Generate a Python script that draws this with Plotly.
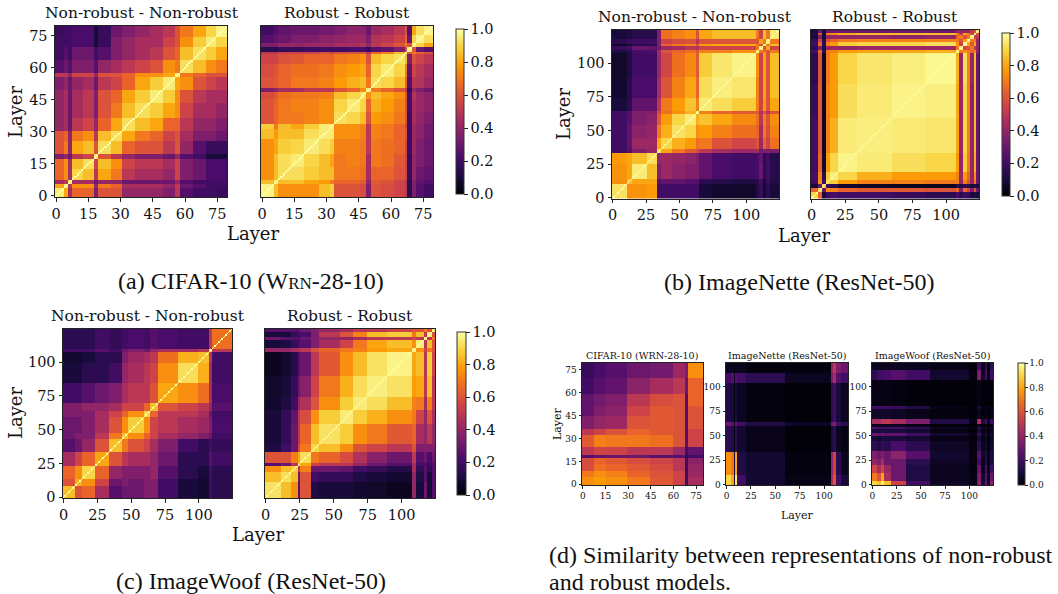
import plotly.graph_objects as go

W, H = 1058, 594
ML, MR, MT, MB = 5, 5, 5, 5

# ---------- data: bin edges (layer index) and similarity values ----------
a1_edges = [0,4,6,8,13,18,20,26,31,37,44,50,56,58,64,70,75,80]
a1_lower = [
 [.95],
 [.8,.95],
 [.45,.5,.95],
 [.65,.75,.45,.9],
 [.65,.75,.45,.85,.92],
 [.35,.4,.3,.5,.55,.95],
 [.6,.7,.4,.8,.85,.6,.92],
 [.6,.65,.4,.7,.75,.5,.85,.92],
 [.4,.45,.3,.5,.55,.4,.65,.8,.92],
 [.4,.45,.3,.45,.5,.35,.6,.7,.85,.92],
 [.4,.45,.3,.45,.5,.35,.6,.65,.8,.88,.95],
 [.35,.4,.3,.4,.45,.3,.5,.55,.65,.8,.88,.95],
 [.5,.5,.4,.55,.55,.4,.6,.6,.65,.75,.75,.8,.95],
 [.25,.3,.25,.35,.35,.25,.4,.45,.5,.55,.6,.75,.7,.92],
 [.2,.25,.2,.3,.3,.2,.25,.35,.4,.45,.5,.6,.65,.85,.93],
 [.2,.2,.2,.22,.22,.1,.18,.35,.4,.45,.45,.55,.6,.75,.88,.95],
 [.18,.2,.2,.22,.22,.1,.18,.3,.35,.4,.45,.5,.6,.7,.8,.9,.97],
]

a2_edges = [0,6,8,14,20,27,32,34,40,46,49,51,56,62,67,68,70,72,76,80]
a2_lower = [
 [.97],
 [.85,.95],
 [.75,.85,.92],
 [.75,.85,.92,.95],
 [.75,.8,.88,.9,.95],
 [.85,.78,.85,.85,.92,.95],
 [.88,.7,.85,.8,.88,.95,.95],
 [.6,.65,.7,.7,.72,.75,.75,.92],
 [.6,.65,.7,.72,.72,.75,.75,.9,.95],
 [.58,.62,.68,.7,.7,.72,.72,.85,.9,.93],
 [.35,.4,.45,.45,.5,.5,.5,.6,.65,.75,.95],
 [.6,.62,.65,.7,.7,.72,.72,.78,.82,.85,.7,.92],
 [.58,.6,.65,.68,.68,.7,.7,.75,.78,.8,.65,.9,.95],
 [.55,.55,.6,.62,.65,.65,.65,.7,.72,.75,.6,.85,.9,.93],
 [.5,.5,.55,.55,.55,.6,.55,.6,.6,.6,.5,.65,.72,.85,.95],
 [.15,.15,.18,.18,.2,.2,.2,.2,.22,.22,.18,.25,.28,.35,.6,.95],
 [.35,.35,.4,.4,.42,.42,.42,.45,.45,.48,.4,.5,.55,.6,.7,.6,.95],
 [.25,.28,.3,.35,.35,.38,.38,.4,.42,.42,.35,.48,.5,.55,.65,.3,.9,.97],
 [.2,.25,.28,.3,.3,.32,.32,.35,.38,.38,.3,.42,.45,.5,.6,.25,.8,.92,.97],
]

b1_edges = [0,11,15,26,34,37,45,55,63,65,75,90,108,110,113,115,118,125]
b1_lower = [
 [.93],
 [.75,.85],
 [.76,.8,.95],
 [.78,.8,.85,.92],
 [.2,.25,.35,.4,.92],
 [.2,.28,.42,.42,.8,.9],
 [.2,.28,.38,.4,.7,.82,.93],
 [.2,.25,.35,.38,.62,.78,.9,.95],
 [.2,.25,.35,.35,.58,.68,.75,.82,.95],
 [.1,.15,.28,.28,.5,.7,.78,.86,.72,.95],
 [.08,.14,.22,.22,.45,.6,.72,.8,.65,.92,.96],
 [.07,.12,.2,.2,.42,.56,.68,.74,.62,.88,.94,.97],
 [.12,.15,.22,.22,.45,.6,.65,.68,.62,.72,.72,.75,.95],
 [.18,.2,.3,.28,.32,.42,.45,.5,.48,.55,.55,.55,.7,.95],
 [.08,.1,.15,.15,.35,.65,.7,.72,.6,.78,.8,.8,.7,.6,.95],
 [.15,.18,.2,.2,.35,.55,.58,.6,.5,.6,.6,.6,.6,.8,.7,.95],
 [.1,.12,.14,.14,.35,.68,.72,.75,.6,.8,.85,.85,.7,.55,.85,.7,.95],
]

b2_edges = [0,5,8,11,14,20,34,60,85,108,110,113,116,118,121,123,125]
b2_lower = [
 [.9],
 [.65,.9],
 [.1,.3,.9],
 [.2,.75,.2,.9],
 [.22,.72,.15,.88,.95],
 [.2,.65,.08,.78,.9,.97],
 [.2,.62,.06,.72,.82,.95,.96],
 [.18,.62,.05,.72,.78,.92,.95,.97],
 [.15,.6,.05,.7,.78,.9,.94,.96,.98],
 [.22,.65,.15,.7,.72,.78,.8,.8,.82,.95],
 [.15,.35,.12,.4,.42,.4,.42,.42,.42,.7,.95],
 [.2,.65,.15,.72,.78,.88,.9,.9,.92,.75,.55,.97],
 [.18,.55,.15,.6,.65,.7,.72,.72,.72,.7,.6,.8,.95],
 [.1,.35,.1,.4,.4,.4,.4,.38,.4,.65,.7,.6,.7,.95],
 [.12,.6,.12,.7,.75,.82,.85,.85,.85,.72,.5,.8,.7,.55,.92],
 [.1,.3,.1,.3,.3,.3,.3,.3,.3,.4,.4,.4,.4,.5,.6,.9],
]

c1_edges = [0,9,14,24,34,44,48,60,64,70,85,100,108,110,125]
c1_lower = [
 [.85],
 [.6,.82],
 [.65,.75,.9],
 [.45,.55,.65,.8],
 [.25,.3,.4,.6,.85],
 [.3,.35,.35,.5,.7,.85],
 [.3,.3,.35,.45,.6,.75,.88],
 [.35,.35,.35,.45,.55,.65,.75,.9],
 [.35,.35,.4,.4,.45,.55,.55,.65,.85],
 [.2,.2,.25,.3,.35,.45,.5,.5,.6,.8],
 [.1,.1,.15,.15,.2,.4,.45,.5,.55,.75,.92],
 [.08,.08,.1,.15,.15,.35,.42,.45,.5,.68,.82,.85],
 [.2,.2,.2,.25,.2,.3,.35,.3,.4,.45,.45,.5,.9],
 [.15,.15,.15,.2,.17,.2,.22,.2,.25,.22,.2,.2,.5,.68],
]

c2_edges = [0,12,19,24,26,34,40,55,65,75,90,108,111,117,119,123,125]
c2_lower = [
 [.93],
 [.85,.92],
 [.75,.85,.88],
 [.25,.3,.5,.9],
 [.6,.6,.72,.8,.92],
 [.12,.2,.3,.55,.7,.9],
 [.1,.17,.3,.5,.65,.85,.93],
 [.1,.17,.28,.5,.58,.75,.88,.95],
 [.08,.12,.2,.4,.47,.6,.75,.88,.95],
 [.07,.1,.17,.3,.37,.55,.7,.82,.92,.96],
 [.05,.08,.13,.25,.3,.5,.62,.75,.85,.93,.97],
 [.4,.4,.45,.45,.5,.6,.65,.7,.72,.78,.8,.95],
 [.1,.12,.17,.22,.25,.35,.45,.55,.7,.8,.85,.75,.95],
 [.3,.25,.25,.22,.3,.35,.4,.4,.45,.5,.5,.55,.5,.95],
 [.1,.1,.17,.2,.22,.35,.5,.6,.72,.85,.88,.7,.85,.5,.95],
 [.25,.25,.25,.25,.3,.35,.4,.45,.5,.5,.55,.6,.6,.7,.6,.9],
]

d1_x = [0,8,16,30,45,60,68,70,80]
d1_y = [0,5,9,14,18,20,25,33,37,45,52,60,70,80]
d1_z = [
 [.75,.78,.75,.7,.62,.55,.2,.45],
 [.7,.75,.72,.65,.6,.55,.2,.42],
 [.58,.68,.65,.62,.58,.5,.2,.4],
 [.58,.65,.62,.58,.55,.5,.2,.38],
 [.25,.28,.3,.3,.25,.25,.15,.2],
 [.5,.55,.55,.5,.5,.42,.2,.28],
 [.62,.72,.7,.7,.68,.6,.25,.55],
 [.5,.55,.6,.65,.62,.6,.25,.55],
 [.35,.4,.42,.6,.62,.6,.25,.6],
 [.28,.35,.38,.55,.62,.6,.25,.6],
 [.28,.32,.35,.5,.58,.6,.25,.65],
 [.2,.25,.28,.38,.45,.5,.3,.65],
 [.18,.22,.25,.3,.32,.42,.35,.75],
]

d2_x = [0,5,8,9,11,20,60,108,110,113,118,125]
d2_y = [0,10,34,60,65,105,115,125]
d2_z = [
 [.9,.8,.1,.95,.2,.08,.03,.45,.6,.2,.1],
 [.75,.7,.1,.8,.12,.08,.02,.4,.55,.15,.05],
 [.15,.12,.02,.15,.08,.04,.01,.1,.15,.05,.03],
 [.3,.25,.05,.3,.2,.12,.06,.3,.35,.2,.15],
 [.12,.1,.02,.1,.05,.02,.01,.15,.2,.1,.05],
 [.2,.25,.05,.25,.2,.15,.05,.35,.45,.25,.2],
 [.05,.05,.02,.05,.05,.02,.02,.4,.5,.35,.3],
]

d3_x = [0,5,9,12,20,35,60,100,108,110,113,117,119,122,125]
d3_y = [0,4,12,20,27,35,45,50,53,57,59,63,68,78,81,108,118,125]
d3_z = [
 [.9,.85,.95,.85,.55,.2,.06,.03,.35,.4,.1,.3,.05,.35],
 [.7,.6,.8,.45,.3,.12,.05,.03,.3,.35,.08,.25,.05,.3],
 [.55,.45,.55,.4,.3,.12,.05,.02,.28,.3,.05,.2,.04,.2],
 [.4,.35,.45,.3,.3,.15,.06,.02,.2,.2,.04,.12,.03,.1],
 [.35,.3,.35,.3,.38,.25,.08,.02,.25,.25,.05,.12,.03,.12],
 [.15,.12,.18,.15,.22,.15,.06,.02,.15,.15,.04,.08,.02,.08],
 [.1,.08,.1,.1,.1,.08,.03,.01,.08,.1,.02,.05,.01,.05],
 [.3,.28,.3,.28,.28,.2,.08,.03,.2,.2,.05,.1,.03,.1],
 [.1,.1,.12,.1,.1,.08,.03,.01,.08,.1,.02,.05,.01,.05],
 [.25,.2,.2,.2,.2,.15,.05,.02,.15,.15,.04,.08,.02,.08],
 [.05,.05,.05,.05,.05,.03,.01,.01,.05,.05,.01,.03,.01,.03],
 [.45,.45,.5,.5,.45,.35,.12,.03,.4,.45,.1,.2,.05,.2],
 [.07,.07,.07,.07,.06,.04,.02,.01,.05,.05,.01,.03,.01,.03],
 [.2,.2,.2,.2,.18,.12,.03,.01,.08,.1,.02,.05,.01,.05],
 [.03,.03,.03,.03,.02,.01,.01,.01,.02,.03,.01,.01,.01,.01],
 [.15,.2,.2,.22,.25,.2,.08,.02,.3,.35,.06,.2,.02,.2],
 [.05,.05,.05,.05,.05,.05,.03,.01,.2,.2,.03,.15,.01,.15],
]

ticks80 = [0,15,30,45,60,75]
ticks125 = [0,25,50,75,100]
cbar_ticks = [0,.2,.4,.6,.8,1]
cbar_labels = ["0.0","0.2","0.4","0.6","0.8","1.0"]

# ---------- helpers ----------
def mirror(rows):
    n = len(rows)
    return [[rows[i][j] if j <= i else rows[j][i] for j in range(n)] for i in range(n)]

def self_similar(edges, lower):
    """Per-layer grid of a symmetric panel; a layer's similarity with itself is 1."""
    full = mirror(lower)
    n = edges[-1]
    idx = [k for k in range(len(edges) - 1) for _ in range(edges[k], edges[k + 1])]
    return [[1.0 if i == j else full[idx[i]][idx[j]] for j in range(n)] for i in range(n)]

def fx(p): return (p - ML) / (W - ML - MR)
def fy(p): return 1 - (p - MT) / (H - MT - MB)

SERIF = "DejaVu Serif"
TIMES = "Liberation Serif"
fig = go.Figure()
annos = []
count = 0

def panel(box, z, n, ticks, tick_size, xe=None, ye=None, show_y=True, cbar=None, ticklen=3.5):
    global count
    count += 1
    x0, x1, y0, y1 = box
    s = "" if count == 1 else str(count)
    xs = [v - .5 for v in xe] if xe else list(range(n))
    ys = [v - .5 for v in ye] if ye else list(range(n))
    t = dict(x=xs, y=ys, z=z, colorscale="Inferno", zmin=0, zmax=1, xaxis="x" + s, yaxis="y" + s,
             showscale=cbar is not None, hoverinfo="skip")
    if cbar is not None:
        cx0, cx1, cy0, cy1, csize = cbar
        t["colorbar"] = dict(x=fx(cx0), xanchor="left", y=fy(cy1), yanchor="bottom",
                             len=cy1 - cy0, lenmode="pixels", thickness=cx1 - cx0,
                             thicknessmode="pixels", xpad=0, ypad=0, outlinewidth=1, outlinecolor="#333",
                             tickvals=cbar_ticks, ticktext=cbar_labels, ticks="outside", ticklen=ticklen,
                             tickwidth=1, tickcolor="#222",
                             tickfont=dict(family=SERIF, size=csize, color="#111"))
    fig.add_trace(go.Heatmap(**t))
    common = dict(range=[-.5, n - .5], showgrid=False, zeroline=False, showline=True, mirror=True,
                  linecolor="#222", linewidth=1, tickfont=dict(family=SERIF, size=tick_size, color="#111"),
                  ticks="outside", ticklen=ticklen, tickwidth=1, tickcolor="#222", tickvals=ticks)
    fig.update_layout({
        "xaxis" + s: dict(domain=[fx(x0), fx(x1)], anchor="y" + s, **common),
        "yaxis" + s: dict(domain=[fy(y1), fy(y0)], anchor="x" + s,
                          **{**common, "tickvals": ticks if show_y else [], "ticks": "outside" if show_y else ""}),
    })

def text(x, y, s, size, family=SERIF, angle=0, anchor="center"):
    annos.append(dict(x=fx(x), y=fy(y), xref="paper", yref="paper", text=s, showarrow=False,
                      font=dict(family=family, size=size, color="#111"), textangle=angle,
                      xanchor=anchor, yanchor="middle"))

# ---------- panels ----------
panel((55,227,26,197), self_similar(a1_edges, a1_lower), 80, ticks80, 14.5)
panel((261,433,26,197), self_similar(a2_edges, a2_lower), 80, ticks80, 14.5, show_y=False, cbar=(456,464,29.5,194,14.5))
panel((612,779,30,198.5), self_similar(b1_edges, b1_lower), 125, ticks125, 14.5)
panel((811,979,30,198.5), self_similar(b2_edges, b2_lower), 125, ticks125, 14.5, show_y=False, cbar=(1002,1010,33,196,14.5))
panel((63,232,329,498), self_similar(c1_edges, c1_lower), 125, ticks125, 14.5)
panel((265,435,329,498), self_similar(c2_edges, c2_lower), 125, ticks125, 14.5, show_y=False, cbar=(457,466,332,495,14.5))
panel((582,703,363,485), d1_z, 80, ticks80, 9, xe=d1_x, ye=d1_y, ticklen=2.5)
panel((726,848,363,485), d2_z, 125, ticks125, 9, xe=d2_x, ye=d2_y, ticklen=2.5)
panel((872,993,363,485), d3_z, 125, ticks125, 9, xe=d3_x, ye=d3_y, cbar=(1018,1025,363,485,9), ticklen=2.5)

# ---------- text ----------
nn, rr = "Non-robust - Non-robust", "Robust - Robust"
for x, y, s in [(142,13,nn),(347,13,rr),(695,17,nn),(895,17,rr),(148,316,nn),(350,316,rr)]:
    text(x, y, s, 15.5)
for x, s in [(642,"CIFAR-10 (WRN-28-10)"),(787,"ImageNette (ResNet-50)"),(932,"ImageWoof (ResNet-50)")]:
    text(x, 355, s, 9.5)
for x, y in [(253,234),(804,235),(258,534)]:
    text(x, y, "Layer", 18)
for x, y in [(15,112),(563,114),(15,413)]:
    text(x, y, "Layer", 18, angle=-90)
text(797, 515, "Layer", 11)
text(557, 424, "Layer", 11, angle=-90)
text(251, 281, "(a) CIFAR-10 (W<span style='font-size:17px'>RN</span>-28-10)", 24, TIMES)
text(800, 282, "(b) ImageNette (ResNet-50)", 24, TIMES)
text(251, 581, "(c) ImageWoof (ResNet-50)", 24, TIMES)
text(547, 555, "(d) Similarity between representations of non-robust", 24, TIMES, anchor="left")
text(547, 582, "and robust models.", 24, TIMES, anchor="left")

fig.update_layout(width=W, height=H, autosize=False, margin=dict(l=ML, r=MR, t=MT, b=MB, autoexpand=False),
                  paper_bgcolor="white", plot_bgcolor="white", showlegend=False, annotations=annos)
fig.write_html("out.html", config={"displayModeBar": False},
               post_script="document.body.style.margin='0';document.body.style.overflow='hidden';")
